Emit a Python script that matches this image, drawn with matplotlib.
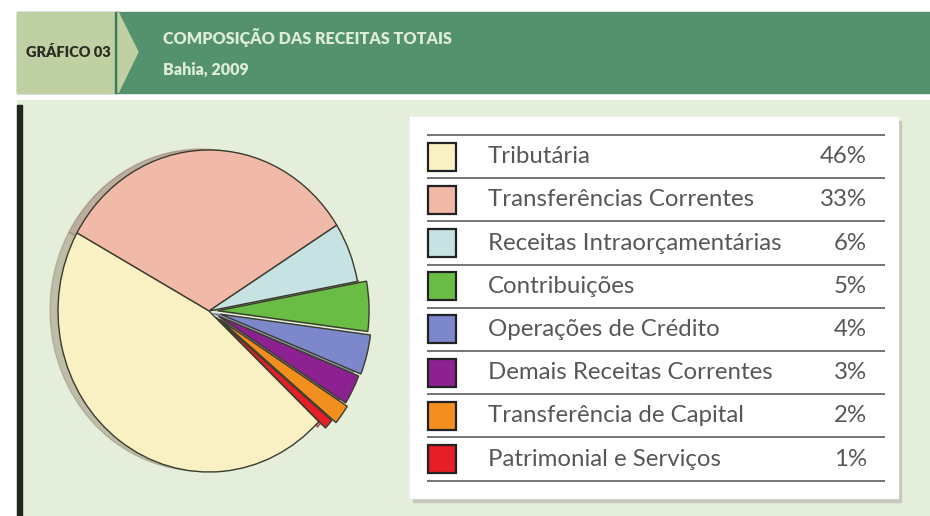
import matplotlib
matplotlib.use("Agg")
import matplotlib.pyplot as plt
from matplotlib.patches import Rectangle, Polygon

# ---------------------------------------------------------------------------
# Data
# ---------------------------------------------------------------------------
title = "COMPOSIÇÃO DAS RECEITAS TOTAIS"
subtitle = "Bahia, 2009"
tag = "GRÁFICO 03"

categories = [
    "Tributária",
    "Transferências Correntes",
    "Receitas Intraorçamentárias",
    "Contribuições",
    "Operações de Crédito",
    "Demais Receitas Correntes",
    "Transferência de Capital",
    "Patrimonial e Serviços",
]
shares = [46, 33, 6, 5, 4, 3, 2, 1]
pct_labels = ["46%", "33%", "6%", "5%", "4%", "3%", "2%", "1%"]

# ---------------------------------------------------------------------------
# Style
# ---------------------------------------------------------------------------
colors = ["#f9f0c3", "#f1b9a7", "#c6e2e2", "#69bd45", "#7c88cb",
          "#8d2192", "#f28f1f", "#e61f26"]
explode = [0.0, 0.0, 0.0, 0.06, 0.08, 0.07, 0.09, 0.06]
pie_order = [1, 2, 3, 4, 5, 6, 7, 0]   # clockwise from the pink slice

W, H = 930, 516
BG = "#e5eedb"
HEAD = "#53916f"
TAG_BG = "#bfd1a3"
TEXT = "#575757"
HEAD_FONT = ["Lato", "DejaVu Sans"]


def Y(y):
    """image pixel row -> data y"""
    return H - y


fig = plt.figure(figsize=(W / 100, H / 100), dpi=100)
ax = fig.add_axes([0, 0, 1, 1])
ax.set_xlim(0, W)
ax.set_ylim(0, H)
ax.axis("off")

# ---------------------------------------------------------------------------
# Header + body background
# ---------------------------------------------------------------------------
ax.add_patch(Rectangle((17, Y(93)), W - 17, 81, color=HEAD, zorder=0))
ax.add_patch(Rectangle((17, Y(93)), 98, 81, color=TAG_BG, zorder=1))
ax.add_patch(Rectangle((115, Y(93)), 3, 81, color="#3f7a57", zorder=1))
ax.add_patch(Polygon([(118, Y(12)), (138, Y(52)), (118, Y(93))],
                     closed=True, color=TAG_BG, zorder=1))
ax.text(68, Y(52), tag, ha="center", va="center", fontsize=10.5,
        fontweight="heavy", color="#2c2c22", family=HEAD_FONT, zorder=2)
ax.text(163, Y(38), title, ha="left", va="center", fontsize=11.6,
        fontweight="heavy", color="#dcecd6", family=HEAD_FONT, zorder=2)
ax.text(163, Y(70), subtitle, ha="left", va="center", fontsize=11.6,
        fontweight="heavy", color="#dcecd6", family=HEAD_FONT, zorder=2)

ax.add_patch(Rectangle((17, 0), W - 17, Y(100), color=BG, zorder=0))
ax.add_patch(Rectangle((17, 0), 5, Y(105), color="#23271f", zorder=1))

# ---------------------------------------------------------------------------
# Pie (own axes, slightly taller than wide like the original)
# ---------------------------------------------------------------------------
cx, cy, rx, ry = 209, 311, 151, 161
pax = fig.add_axes([(cx - 1.25 * rx) / W, (Y(cy) - 1.25 * ry) / H,
                    2.5 * rx / W, 2.5 * ry / H])
pax.pie(
    [shares[i] for i in pie_order],
    colors=[colors[i] for i in pie_order],
    explode=[explode[i] for i in pie_order],
    startangle=151,
    counterclock=False,
    radius=1.0,
    shadow={"ox": -0.038, "oy": 0.004, "shade": 0.4},
    wedgeprops={"edgecolor": "#3b3b2e", "linewidth": 1.0},
)
pax.set_xlim(-1.25, 1.25)
pax.set_ylim(-1.25, 1.25)
pax.set_aspect("auto")
pax.axis("off")

# ---------------------------------------------------------------------------
# Legend table
# ---------------------------------------------------------------------------
bx0, bx1, by0, by1 = 410, 898, 117, 498
ax.add_patch(Rectangle((bx0 + 3, Y(by1 + 4)), bx1 - bx0, by1 - by0,
                       color="#c4c8bd", zorder=3))
ax.add_patch(Rectangle((bx0, Y(by1)), bx1 - bx0, by1 - by0,
                       color="white", zorder=4))

row_h = 43.2
top_line = 135
for k in range(len(categories) + 1):
    yl = Y(top_line + k * row_h)
    ax.plot([427, 885], [yl, yl], color="#6a6a6a", lw=1.3, zorder=5,
            solid_capstyle="butt")

for k, (name, pct, col) in enumerate(zip(categories, pct_labels, colors)):
    yc = Y(top_line + (k + 0.5) * row_h)
    ax.add_patch(Rectangle((428, yc - 14), 28, 28, facecolor=col,
                           edgecolor="#222222", lw=1.6, zorder=6))
    ax.text(488, yc, name, ha="left", va="center", fontsize=17.3,
            fontweight="normal", color=TEXT, family="Lato", zorder=6)
    ax.text(867, yc, pct, ha="right", va="center", fontsize=17.3,
            fontweight="normal", color=TEXT, family="Lato", zorder=6)

fig.savefig("out.png", dpi=100, facecolor="white")
